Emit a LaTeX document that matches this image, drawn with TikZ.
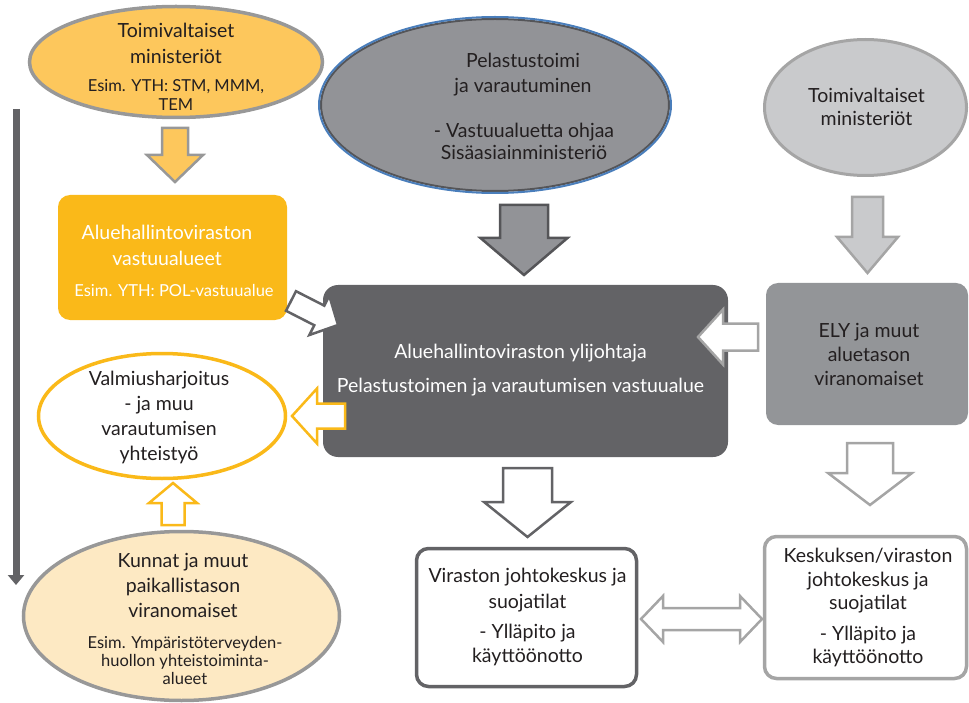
\documentclass[tikz,border=0pt]{standalone}
\usepackage{fontspec}
\setmainfont{Lato}
\usetikzlibrary{calc,arrows.meta,shapes.geometric}
\definecolor{lorange}{RGB}{253,199,92}
\definecolor{orangeA}{RGB}{250,185,25}
\definecolor{beige}{RGB}{253,233,195}
\definecolor{edgegray}{RGB}{152,152,152}
\definecolor{midgray}{RGB}{146,147,151}
\definecolor{darkbox}{RGB}{99,99,102}
\definecolor{lgray}{RGB}{201,202,204}
\definecolor{elygray}{RGB}{147,149,152}
\definecolor{txtdark}{RGB}{35,31,32}
\definecolor{edgeblue}{RGB}{74,126,187}
\definecolor{lgedge}{RGB}{165,165,165}
\definecolor{peledge}{RGB}{85,85,88}
\newcommand\fbig{\fontsize{19.5}{26}\selectfont}
\newcommand\fsmall{\fontsize{16.5}{19.5}\selectfont}
% block arrow: style, from, to, shaft half width, head half width, head length
\newcommand\blockarrow[6]{%
  \coordinate (ba-base) at ($(#3)!#6!(#2)$);
  \draw[#1] ($(#2)!#4!90:(#3)$) -- ($(ba-base)!#4!90:(#3)$) -- ($(ba-base)!#5!90:(#3)$)
    -- (#3) -- ($(ba-base)!#5!-90:(#3)$) -- ($(ba-base)!#4!-90:(#3)$) -- ($(#2)!#4!-90:(#3)$) -- cycle;
}
% double block arrow
\newcommand\dblockarrow[6]{%
  \coordinate (da-b1) at ($(#2)!#6!(#3)$);
  \coordinate (da-b2) at ($(#3)!#6!(#2)$);
  \draw[#1] (#2) -- ($(da-b1)!#5!90:(#3)$) -- ($(da-b1)!#4!90:(#3)$) -- ($(da-b2)!#4!-90:(#2)$)
    -- ($(da-b2)!#5!-90:(#2)$) -- (#3) -- ($(da-b2)!#5!90:(#2)$) -- ($(da-b2)!#4!90:(#2)$)
    -- ($(da-b1)!#4!-90:(#3)$) -- ($(da-b1)!#5!-90:(#3)$) -- cycle;
}
\tikzset{
  txt/.style={text=txtdark, align=center, inner sep=0pt},
  ell/.style={ellipse, inner sep=0pt},
  rbox/.style={rectangle, rounded corners=12pt, inner sep=0pt},
  arr/.style={line width=2.5pt, line join=miter},
}
\begin{document}
\begin{tikzpicture}[x=1pt,y=-1pt]
\useasboundingbox (0,0) rectangle (969,703);

% left vertical arrow
\coordinate (vtop) at (16,109);
\coordinate (vbot) at (16,585);
\draw[darkbox, line width=7pt, -{Triangle[width=16pt,length=10pt]}] (vtop) -- (vbot);

% shapes
\node[ell, fill=lorange, draw=edgegray, line width=3.5pt, minimum width=293pt, minimum height=111pt] (tm1) at (176,62) {};
\node[rbox, fill=orangeA, minimum width=229pt, minimum height=125pt] (avr) at (172.5,257.5) {};
\node[ell, fill=midgray, draw=peledge, line width=2pt, minimum width=348pt, minimum height=172pt] (pel) at (495,105) {};
\draw[edgeblue, line width=2pt] (pel.center) ellipse [x radius=176pt, y radius=88pt];
\node[rbox, rounded corners=15pt, fill=darkbox, minimum width=405pt, minimum height=172pt] (yli) at (525.5,371) {};
\node[ell, fill=lgray, draw=lgedge, line width=3pt, minimum width=202pt, minimum height=136pt] (tm2) at (865.5,107.5) {};
\node[rbox, fill=elygray, minimum width=202pt, minimum height=142pt] (ely) at (867,354) {};
\node[ell, fill=white, draw=orangeA, line width=3.5pt, minimum width=247pt, minimum height=125pt] (valm) at (162,416) {};
\node[ell, fill=beige, draw=edgegray, line width=3.5pt, minimum width=316pt, minimum height=169pt] (kun) at (181.5,616) {};
\node[rbox, fill=white, draw=darkbox, line width=3.5pt, minimum width=220pt, minimum height=138pt] (vjk) at (526.5,617.5) {};
\node[rbox, fill=white, draw=lgedge, line width=3.5pt, minimum width=202pt, minimum height=142pt] (kjk) at (865.5,607.5) {};

% texts
\node[txt, font=\fbig] (tm1a) at ($(tm1)+(0,-18.5)$) {Toimivaltaiset\\ministeriöt};
\node[txt, font=\fsmall] (tm1b) at ($(tm1)+(0,33)$) {Esim. YTH: STM, MMM,\\TEM};
\node[txt, font=\fbig, text=white] (avra) at ($(avr)+(-5.5,-12)$) {Aluehallintoviraston\\vastuualueet};
\node[txt, font=\fsmall, text=white] (avrb) at ($(avr)+(1.5,32.5)$) {Esim. YTH: POL-vastuualue};
\node[txt, font=\fbig] (pela) at ($(pel)+(28,-30.5)$) {Pelastustoimi\\[-1pt]ja varautuminen};
\node[txt, font=\fbig] (pelb) at ($(pel)+(29,36)$) {- Vastuualuetta ohjaa\\[-4pt]Sisäasiainministeriö};
\node[txt, font=\fbig, text=white] (ylit) at ($(yli)+(-5,-1)$) {Aluehallintoviraston ylijohtaja\\[8pt]Pelastustoimen ja varautumisen vastuualue};
\node[txt, font=\fbig] (tm2t) at ($(tm2)+(1,-1)$) {Toimivaltaiset\\[-3pt]ministeriöt};
\node[txt, font=\fbig] (elyt) at ($(ely)+(2,0)$) {ELY ja muut\\[-2pt]aluetason\\[-2pt]viranomaiset};
\node[txt, font=\fbig] (valmt) at ($(valm)+(-3,1.5)$) {Valmiusharjoitus\\[-1pt]- ja muu\\[-1pt]varautumisen\\[-1pt]yhteistyö};
\node[txt, font=\fbig] (kuna) at ($(kun)+(1.5,-31)$) {Kunnat ja muut\\[-1pt]paikallistason\\[-1pt]viranomaiset};
\node[txt, font=\fsmall] (kunb) at ($(kun)+(3.5,44)$) {Esim. Ympäristöterveyden-\\[-1.5pt]huollon yhteistoiminta-\\[-1.5pt]alueet};
\node[txt, font=\fbig] (vjka) at ($(vjk)+(1,-27.5)$) {Viraston johtokeskus ja\\suojatilat};
\node[txt, font=\fbig] (vjkb) at ($(vjk)+(1,27.5)$) {- Ylläpito ja\\[-2pt]käyttöönotto};
\node[txt, font=\fbig] (kjka) at ($(kjk)+(2.5,-26.5)$) {Keskuksen/viraston\\[-2pt]johtokeskus ja\\[-3pt]suojatilat};
\node[txt, font=\fbig] (kjkb) at ($(kjk)+(2.5,39)$) {- Ylläpito ja\\[-3pt]käyttöönotto};

% arrow end points
\coordinate (a1s) at (175,128);   \coordinate (a1e) at (175,182);
\coordinate (a2s) at (524,205);   \coordinate (a2e) at (524,275);
\coordinate (a3s) at (867.5,197); \coordinate (a3e) at (867.5,273);
\coordinate (a4s) at (758,337);   \coordinate (a4e) at (698,337);
\coordinate (a5s) at (291,301);   \coordinate (a5e) at (338,325);
\coordinate (a6s) at (345,416);   \coordinate (a6e) at (292,416);
\coordinate (a7s) at (173,525);   \coordinate (a7e) at (173,483);
\coordinate (a8s) at (527.5,468); \coordinate (a8e) at (527.5,537);
\coordinate (a9s) at (870,443);   \coordinate (a9e) at (870,505);
\coordinate (a10s) at (641,619);  \coordinate (a10e) at (762,619);

\blockarrow{arr, fill=lorange, draw=edgegray}{a1s}{a1e}{13pt}{28pt}{27pt}
\blockarrow{arr, fill=midgray, draw=peledge}{a2s}{a2e}{24pt}{43.5pt}{37pt}
\blockarrow{arr, fill=lgray, draw=lgedge}{a3s}{a3e}{15.5pt}{30.5pt}{36pt}
\blockarrow{arr, fill=white, draw=lgedge}{a4s}{a4e}{13.5pt}{27.5pt}{25pt}
\blockarrow{arr, fill=white, draw=darkbox}{a5s}{a5e}{11pt}{22pt}{21pt}
\blockarrow{arr, fill=white, draw=orangeA}{a6s}{a6e}{12.5pt}{27.5pt}{25pt}
\blockarrow{arr, fill=white, draw=orangeA}{a7s}{a7e}{11.5pt}{24pt}{20pt}
\blockarrow{arr, fill=white, draw=darkbox}{a8s}{a8e}{24.5pt}{43.5pt}{35pt}
\blockarrow{arr, fill=white, draw=lgedge}{a9s}{a9e}{23pt}{42pt}{32pt}
\dblockarrow{arr, fill=white, draw=lgedge}{a10s}{a10e}{11pt}{23pt}{22pt}
\end{tikzpicture}
\end{document}
